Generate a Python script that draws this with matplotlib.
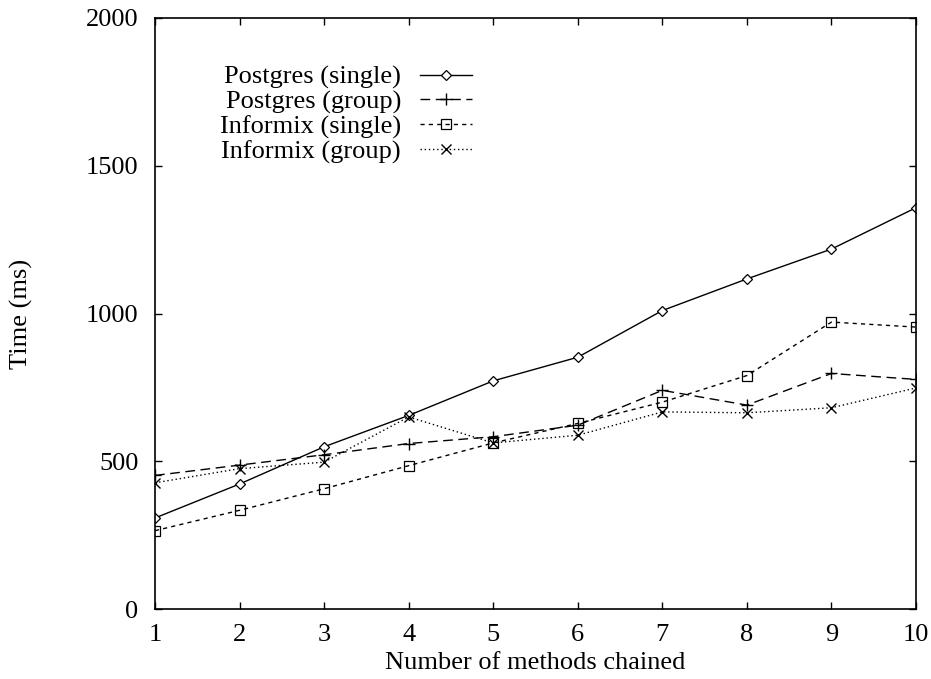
import matplotlib
matplotlib.use("Agg")
import matplotlib.pyplot as plt

plt.rcParams['font.family'] = ['Liberation Serif', 'DejaVu Serif']

methods = [1, 2, 3, 4, 5, 6, 7, 8, 9, 10]
pg_single = [308, 423, 549, 655, 772, 852, 1010, 1117, 1218, 1358]
pg_group = [452, 487, 522, 560, 583, 622, 740, 690, 797, 777]
ifx_single = [265, 334, 407, 485, 562, 628, 700, 790, 971, 954]
ifx_group = [427, 475, 497, 650, 562, 588, 667, 664, 681, 748]

fig = plt.figure(figsize=(9.31, 6.79), dpi=100)
ax = fig.add_axes([155 / 931, 1 - 609 / 679, 761 / 931, 591 / 679])

ax.plot(methods, pg_single, color='black', lw=1, ls='-', marker='D',
        ms=5, mfc='white', mew=0.9, label='Postgres (single)')
ax.plot(methods, pg_group, color='black', lw=1, ls=(0, (7, 4)), marker='+',
        ms=8, mew=1, label='Postgres (group)')
ax.plot(methods, ifx_single, color='black', lw=1, ls=(0, (3, 3)), marker='s',
        ms=7, mfc='none', mew=0.9, label='Informix (single)')
ax.plot(methods, ifx_group, color='black', lw=1, ls=(0, (1, 2)), marker='x',
        ms=7, mew=1, label='Informix (group)')

ax.set_xlim(1, 10)
ax.set_ylim(0, 2000)
ax.set_xticks(methods)
ax.set_yticks([0, 500, 1000, 1500, 2000])
ax.tick_params(direction='in', top=True, right=True, length=5, width=1,
               labelsize=19)
ax.tick_params(axis='x', pad=11)
ax.tick_params(axis='y', pad=12)
for s in ax.spines.values():
    s.set_linewidth(1.2)

ax.set_xlabel('Number of methods chained', fontsize=19, labelpad=4)
ax.set_ylabel('Time (ms)', fontsize=19, labelpad=38)

ax.legend(loc='upper right', bbox_to_anchor=(0.417, 0.92), frameon=False,
          markerfirst=False, fontsize=19, handlelength=2.0, handletextpad=0.7,
          labelspacing=0.04, borderpad=0, borderaxespad=0)

fig.savefig('out.png', dpi=100)
